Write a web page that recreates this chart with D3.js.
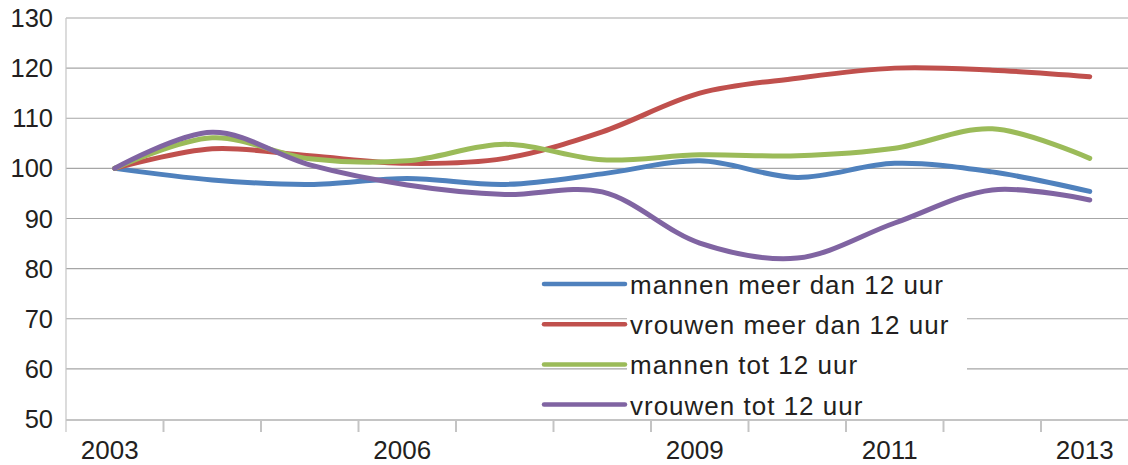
<!DOCTYPE html>
<html>
<head>
<meta charset="utf-8">
<script src="https://d3js.org/d3.v7.min.js"></script>
<style>
  body { margin: 0; background: #fff; }
  text { font-family: "Liberation Sans", Arial, sans-serif; fill: #231f20; }
</style>
</head>
<body>
<svg id="chart" width="1128" height="465"></svg>
<script>
var years = [2003, 2004, 2005, 2006, 2007, 2008, 2009, 2010, 2011, 2012, 2013];
var labelYears = [2003, 2006, 2009, 2011, 2013];
var yTicks = [50, 60, 70, 80, 90, 100, 110, 120, 130];

var mannenMeer  = [100, 97.7, 96.8, 98.0, 96.8, 98.9, 101.5, 98.2, 101.0, 99.3, 95.4];
var vrouwenMeer = [100, 103.9, 102.5, 101.0, 102.0, 107.3, 115.0, 118.0, 120.0, 119.6, 118.3];
var mannenTot   = [100, 106.1, 101.9, 101.5, 104.8, 101.7, 102.7, 102.5, 104.0, 107.9, 102.0];
var vrouwenTot  = [100, 107.2, 100.7, 96.7, 94.8, 95.3, 85.1, 82.1, 89.1, 95.7, 93.7];

var seriesNames = ["mannen meer dan 12 uur", "vrouwen meer dan 12 uur", "mannen tot 12 uur", "vrouwen tot 12 uur"];
var seriesColors = ["#4f81bd", "#c0504d", "#9bbb59", "#8064a2"];
var seriesValues = [mannenMeer, vrouwenMeer, mannenTot, vrouwenTot];

var svg = d3.select("#chart");

var x = d3.scaleBand().domain(years).range([66, 66 + 97.5 * years.length]);
var y = d3.scaleLinear().domain([50, 130]).range([419, 18]);

// horizontal gridlines
svg.append("g").selectAll("line")
  .data(yTicks.slice(1))
  .enter().append("line")
  .attr("x1", 66).attr("x2", 1128)
  .attr("y1", d => y(d)).attr("y2", d => y(d))
  .attr("stroke", "#a6a6a6").attr("stroke-width", 1.2);

// y labels
svg.append("g").selectAll("text")
  .data(yTicks)
  .enter().append("text")
  .attr("x", 53).attr("y", d => y(d) + 9)
  .attr("text-anchor", "end")
  .attr("font-size", 25.5)
  .text(d => d);

// axes
svg.append("line").attr("x1", 66).attr("x2", 66).attr("y1", y(130)).attr("y2", 432)
  .attr("stroke", "#c4c4c4").attr("stroke-width", 1.2);
svg.append("line").attr("x1", 66).attr("x2", 1128).attr("y1", 420).attr("y2", 420)
  .attr("stroke", "#c4c4c4").attr("stroke-width", 2);
svg.append("g").selectAll("line")
  .data(years.slice(1))
  .enter().append("line")
  .attr("x1", d => x(d)).attr("x2", d => x(d))
  .attr("y1", 420).attr("y2", 432)
  .attr("stroke", "#c4c4c4").attr("stroke-width", 2);

svg.append("g").selectAll("text")
  .data(labelYears)
  .enter().append("text")
  .attr("x", d => x(d) + x.bandwidth() / 2 - 5)
  .attr("y", 459)
  .attr("text-anchor", "middle")
  .attr("font-size", 26)
  .text(d => d);

// lines
var line = d3.line()
  .x((d, i) => x(years[i]) + x.bandwidth() / 2)
  .y(d => y(d))
  .curve(d3.curveCatmullRom);

svg.append("g").selectAll("path")
  .data(seriesValues)
  .enter().append("path")
  .attr("d", d => line(d))
  .attr("fill", "none")
  .attr("stroke", (d, i) => seriesColors[i])
  .attr("stroke-width", 5)
  .attr("stroke-linecap", "round")
  .attr("stroke-linejoin", "round");

// legend
var legend = svg.append("g");
legend.append("rect")
  .attr("x", 627).attr("y", 273).attr("width", 340).attr("height", 145)
  .attr("fill", "#fff");
var item = legend.selectAll("g.item")
  .data(seriesNames)
  .enter().append("g").attr("class", "item")
  .attr("transform", (d, i) => "translate(0," + (284 + i * 40.2) + ")");
item.append("line")
  .attr("x1", 544).attr("x2", 625)
  .attr("stroke", (d, i) => seriesColors[i])
  .attr("stroke-width", 4.5)
  .attr("stroke-linecap", "round");
item.append("text")
  .attr("x", 630).attr("y", 10)
  .attr("font-size", 26)
  .attr("letter-spacing", 1)
  .text(d => d);
</script>
</body>
</html>
